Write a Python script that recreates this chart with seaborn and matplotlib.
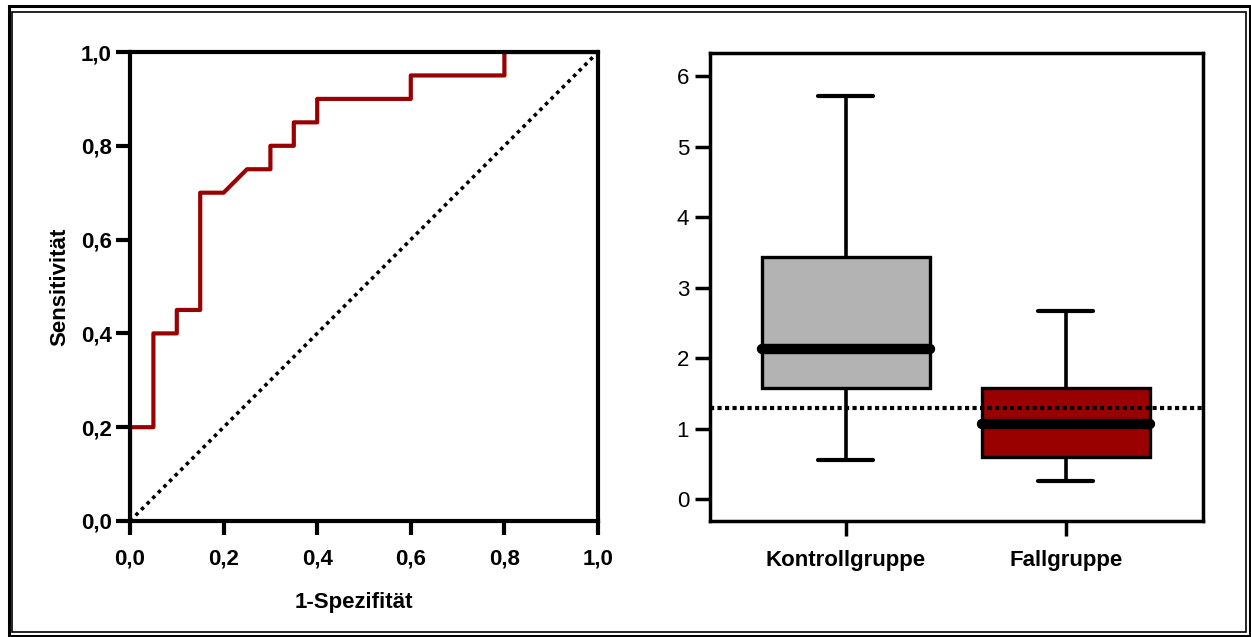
import matplotlib
matplotlib.use("Agg")
import matplotlib.pyplot as plt
import numpy as np
import pandas as pd
import seaborn as sns
from matplotlib.patches import Rectangle
from matplotlib.ticker import FuncFormatter

# ROC curve (1-specificity vs. sensitivity)
fpr = [0.0, 0.0, 0.05, 0.05, 0.10, 0.10, 0.15, 0.15, 0.20, 0.25, 0.30, 0.30,
       0.35, 0.35, 0.40, 0.40, 0.60, 0.60, 0.80, 0.80, 1.0]
tpr = [0.0, 0.20, 0.20, 0.40, 0.40, 0.45, 0.45, 0.70, 0.70, 0.75, 0.75, 0.80,
       0.80, 0.85, 0.85, 0.90, 0.90, 0.95, 0.95, 1.0, 1.0]
roc_ticks = [0.0, 0.2, 0.4, 0.6, 0.8, 1.0]

# Five-number summaries (min, Q1, median, Q3, max) per group
groups = ["Kontrollgruppe", "Fallgruppe"]
kontroll_summary = [0.55, 1.57, 2.13, 3.43, 5.72]
fall_summary = [0.26, 0.60, 1.06, 1.57, 2.67]
cutoff = 1.29
box_ticks = [0, 1, 2, 3, 4, 5, 6]
box_colors = ["#b3b3b3", "#990000"]

sns.set_theme(style="white")
plt.rcParams["font.family"] = ["Liberation Sans", "DejaVu Sans"]
plt.rcParams["text.color"] = "black"
plt.rcParams["axes.labelcolor"] = "black"

W, H = 1251, 637
fig = plt.figure(figsize=(W / 100, H / 100), dpi=100)
fig.patch.set_facecolor("white")

FS = 16

# ---------- left panel: ROC ----------
ax1 = fig.add_axes([130 / W, 1 - 521 / H, 468 / W, 469 / H])
sns.lineplot(x=[0, 1], y=[0, 1], color="black", lw=2.6,
             linestyle=(0, (1, 1.2)), ax=ax1)
sns.lineplot(x=fpr, y=tpr, sort=False, estimator=None, color="#990000",
             lw=3, ax=ax1)
ax1.set_xlim(0, 1)
ax1.set_ylim(0, 1)
ax1.set_xticks(roc_ticks)
ax1.set_yticks(roc_ticks)
fmt = FuncFormatter(lambda v, p: f"{v:.1f}".replace(".", ","))
ax1.xaxis.set_major_formatter(fmt)
ax1.yaxis.set_major_formatter(fmt)
for sp in ax1.spines.values():
    sp.set_linewidth(3)
    sp.set_color("black")
    sp.set_visible(True)
ax1.tick_params(axis="both", which="major", direction="out", length=10,
                width=3, color="black", labelsize=FS, labelcolor="black",
                left=True, bottom=True)
ax1.tick_params(axis="x", pad=10)
ax1.tick_params(axis="y", pad=3)
for lab in ax1.get_xticklabels() + ax1.get_yticklabels():
    lab.set_fontweight("bold")
ax1.set_xlabel("1-Spezifität", fontsize=FS, fontweight="bold", color="black")
ax1.set_ylabel("Sensitivität", fontsize=FS, fontweight="bold", color="black",
               labelpad=8)
ax1.xaxis.set_label_coords(0.479, -0.152)

# ---------- right panel: box plots ----------
ax2 = fig.add_axes([710 / W, 1 - 521 / H, 493 / W, 468 / H])
df = pd.DataFrame({
    "Gruppe": [groups[0]] * len(kontroll_summary) + [groups[1]] * len(fall_summary),
    "Wert": kontroll_summary + fall_summary,
})
sns.boxplot(data=df, x="Gruppe", y="Wert", hue="Gruppe", order=groups,
            hue_order=groups, palette=box_colors, saturation=1,
            whis=(0, 100), width=0.76, linewidth=2.4, linecolor="black",
            medianprops=dict(linewidth=7.5, solid_capstyle="round",
                             color="black"),
            whiskerprops=dict(linewidth=2.6, color="black"),
            capprops=dict(linewidth=3, color="black"),
            capwidths=0.25, legend=False, ax=ax2)
ax2.axhline(cutoff, color="black", lw=3, linestyle=(0, (1, 0.8)), zorder=5)
ax2.set_xlim(-0.618, 1.623)
ax2.set_ylim(-0.31, 6.33)
ax2.set_yticks(box_ticks)
for sp in ax2.spines.values():
    sp.set_linewidth(2.5)
    sp.set_color("black")
    sp.set_visible(True)
ax2.tick_params(axis="both", which="major", direction="out", length=11,
                width=2.5, color="black", labelsize=FS, labelcolor="black",
                left=True, bottom=True)
ax2.tick_params(axis="x", pad=10)
ax2.tick_params(axis="y", pad=4)
for lab in ax2.get_xticklabels():
    lab.set_fontweight("bold")
ax2.set_xlabel("")
ax2.set_ylabel("")

# ---------- double picture frame ----------
fig.add_artist(Rectangle((8.5 / W, 1 - 635.5 / H), (1249.5 - 8.5) / W,
                         (635.5 - 6) / H, transform=fig.transFigure,
                         fill=False, ec="black", lw=2.2))
fig.add_artist(Rectangle((12.5 / W, 1 - 632 / H), (1246 - 12.5) / W,
                         (632 - 12) / H, transform=fig.transFigure,
                         fill=False, ec="black", lw=1.2))

fig.savefig("out.png", dpi=100, facecolor="white")
